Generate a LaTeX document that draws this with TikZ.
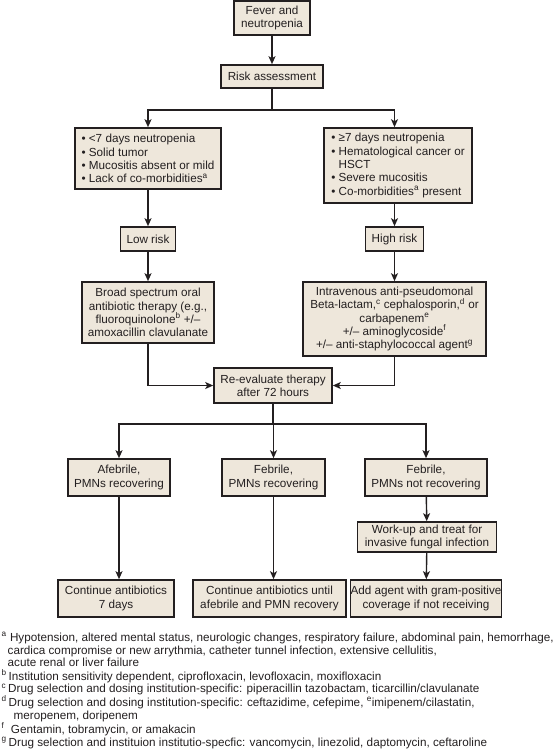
\documentclass[tikz,border=0pt]{standalone}
\usepackage{fontspec}
\setmainfont{Liberation Sans}
\usetikzlibrary{arrows.meta}
\definecolor{boxfill}{RGB}{238,231,219}
\definecolor{ink}{RGB}{35,31,32}
\begin{document}
\begin{tikzpicture}[x=1pt,y=-1pt,
  box/.style={draw=ink, line width=1.6pt, fill=boxfill, inner sep=0pt, align=center,
    font=\fontsize{11.7}{13.3}\selectfont, text=ink},
  conn/.style={draw=ink, line width=1.4pt},
  arr/.style={conn, -{Stealth[length=8pt,width=7pt,inset=2pt]}},
  fn/.style={anchor=base west, inner sep=0pt, font=\fontsize{11.7}{13}\selectfont, text=ink}]
\useasboundingbox (0,0) rectangle (557,750);

% boxes
\node[box, minimum width=76pt, minimum height=34pt] (fever) at (272,18) {Fever and\\neutropenia};
\node[box, minimum width=102pt, minimum height=23pt] (risk) at (272,76.5) {Risk assessment};
\node[box, align=left, minimum width=146pt, minimum height=61pt] (lowcrit) at (148,158.5)
  {• <7 days neutropenia\\• Solid tumor\\• Mucositis absent or mild\\• Lack of co-morbidities\textsuperscript{a}};
\node[box, align=left, minimum width=148pt, minimum height=75pt] (highcrit) at (398,165.5)
  {• ≥7 days neutropenia\\• Hematological cancer or\\\phantom{• }HSCT\\• Severe mucositis\\• Co-morbidities\textsuperscript{a} present};
\node[box, minimum width=55pt, minimum height=24pt] (lowrisk) at (148,239) {Low risk};
\node[box, minimum width=58pt, minimum height=24pt] (highrisk) at (394.5,239) {High risk};
\node[box, minimum width=132pt, minimum height=61pt] (broad) at (148,312.5)
  {Broad spectrum oral\\antibiotic therapy (e.g.,\\fluoroquinolone\textsuperscript{b} +/–\\amoxacillin clavulanate};
\node[box, minimum width=183pt, minimum height=74pt] (iv) at (394.5,319)
  {Intravenous anti-pseudomonal\\Beta-lactam,\textsuperscript{c} cephalosporin,\textsuperscript{d} or\\carbapenem\textsuperscript{e}\\+/– aminoglycoside\textsuperscript{f}\\+/– anti-staphylococcal agent\textsuperscript{g}};
\node[box, minimum width=118pt, minimum height=35pt] (reeval) at (273,385.5) {Re-evaluate therapy\\after 72 hours};
\node[box, minimum width=102pt, minimum height=37pt] (afeb) at (119,477.5) {Afebrile,\\PMNs recovering};
\node[box, minimum width=103pt, minimum height=37pt] (febr) at (273.5,477.5) {Febrile,\\PMNs recovering};
\node[box, minimum width=122pt, minimum height=37pt] (febnr) at (426,477.5) {Febrile,\\PMNs not recovering};
\node[box, minimum width=139pt, minimum height=30pt] (workup) at (427,537) {Work-up and treat for\\invasive fungal infection};
\node[box, minimum width=116pt, minimum height=37pt] (cont7) at (116,598.5) {Continue antibiotics\\7 days};
\node[box, minimum width=153pt, minimum height=37pt] (contuntil) at (269.5,598.5) {Continue antibiotics until\\afebrile and PMN recovery};
\node[box, minimum width=150pt, minimum height=37pt] (addagent) at (426,598.5) {Add agent with gram-positive\\coverage if not receiving};

% connectors
\coordinate (split1) at (272,110);
\coordinate (split2) at (273,424);
\draw[arr] (fever) -- (risk);
\draw[conn] (risk.south) -- (split1);
\draw[arr] (split1) -| (lowcrit.north);
\draw[arr] (split1) -| (highcrit.north -| highrisk);
\draw[arr] (lowcrit) -- (lowrisk);
\draw[arr] (highcrit.south -| highrisk) -- (highrisk.north);
\draw[arr] (lowrisk) -- (broad);
\draw[arr] (highrisk) -- (iv);
\draw[arr] (broad.south) |- (reeval.west);
\draw[arr] (iv.south) |- (reeval.east);
\draw[conn] (reeval.south) -- (split2);
\draw[arr] (split2) -| (afeb.north);
\draw[arr] (split2) -| (febr.north);
\draw[arr] (split2) -| (febnr.north);
\draw[arr] (afeb.south) -- (afeb.south |- cont7.north);
\draw[arr] (febr.south) -- (febr.south |- contuntil.north);
\draw[arr] (febnr) -- (workup);
\draw[arr] (workup) -- (addagent);

% footnotes
\node[fn] (fa1) at (1.5,641) {\textsuperscript{a}\ Hypotension, altered mental status, neurologic changes, respiratory failure, abdominal pain, hemorrhage,};
\node[fn] (fa2) at (7.5,654) {cardica compromise or new arrythmia, catheter tunnel infection, extensive cellulitis,};
\node[fn] (fa3) at (7.5,666.5) {acute renal or liver failure};
\node[fn] (fb) at (1.5,680) {\textsuperscript{b}\,Institution sensitivity dependent, ciprofloxacin, levofloxacin, moxifloxacin};
\node[fn] (fc) at (1.5,692.5) {\textsuperscript{c}\,Drug selection and dosing institution-specific: piperacillin tazobactam, ticarcillin/clavulanate};
\node[fn] (fd1) at (1.5,706) {\textsuperscript{d}\,Drug selection and dosing institution-specific: ceftazidime, cefepime, \textsuperscript{e}imipenem/cilastatin,};
\node[fn] (fd2) at (13.5,719) {meropenem, doripenem};
\node[fn] (ff) at (1.5,733) {\textsuperscript{f}\ \ Gentamin, tobramycin, or amakacin};
\node[fn] (fg) at (1.5,746) {\textsuperscript{g}\,Drug selection and instituion institutio-specfic: vancomycin, linezolid, daptomycin, ceftaroline};
\end{tikzpicture}
\end{document}
